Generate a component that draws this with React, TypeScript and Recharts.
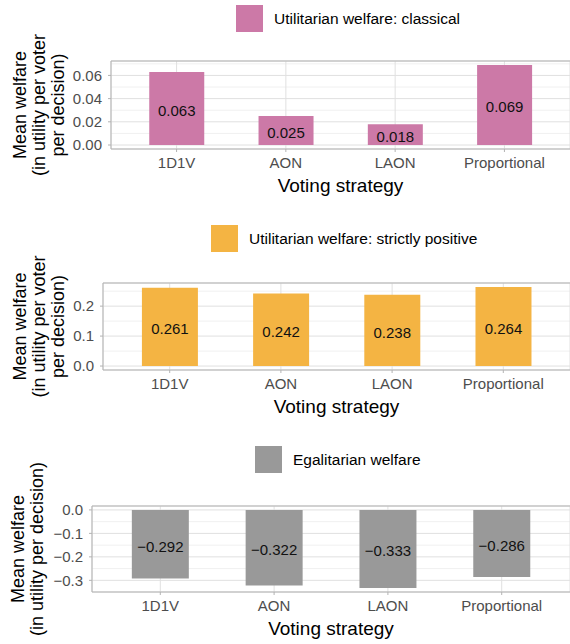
import { BarChart, Bar, XAxis, YAxis, CartesianGrid, ReferenceLine, LabelList, Label } from 'recharts'

const strategies = ['1D1V', 'AON', 'LAON', 'Proportional']

const classicalWelfare = [0.063, 0.025, 0.018, 0.069]
const positiveWelfare = [0.261, 0.242, 0.238, 0.264]
const egalitarianWelfare = [-0.292, -0.322, -0.333, -0.286]

const classicalTicks = [0, 0.02, 0.04, 0.06]
const classicalMinor = [0.01, 0.03, 0.05, 0.07]
const positiveTicks = [0, 0.1, 0.2]
const positiveMinor = [0.05, 0.15, 0.25]
const egalitarianTicks = [-0.3, -0.2, -0.1, 0]
const egalitarianMinor = [-0.25, -0.15, -0.05]

const seriesNames = ['Utilitarian welfare: classical', 'Utilitarian welfare: strictly positive', 'Egalitarian welfare']
const seriesColors = ['#CC79A7', '#F4B443', '#999999']

const longTitle = ['Mean welfare', '(in utility per voter', 'per decision)']
const shortTitle = ['Mean welfare', '(in utility per decision)']
const xTitle = 'Voting strategy'

const FONT = "'Liberation Sans', Arial, Helvetica, sans-serif"
const W = 570

// ggplot style number labels, with a real minus sign
const fmt = (v: number, d: number) => (v < 0 ? '\u2212' : '') + Math.abs(v).toFixed(d)

interface PanelProps {
    values: number[]
    ticks: number[]
    minor: number[]
    decimals: number
    name: string
    color: string
    title: string[]
    titleX: number[]
    top: number
    height: number
    plotTop: number
    plotBottom: number
    plotLeft: number
    legendLeft: number
    legendTop: number
}

function Panel(p: PanelProps) {
    const data = strategies.map((s, i) => ({ strategy: s, value: p.values[i] }))
    // 5% expansion like ggplot
    const lo = Math.min(0, ...p.values)
    const hi = Math.max(0, ...p.values)
    const ext = (hi - lo) * 0.05
    const domain = [lo - ext, hi + ext]
    const xPad = ((W - p.plotLeft) / 4.2) * 0.1

    return (
        <div style={{ position: 'absolute', left: 0, top: p.top, width: W, height: p.height }}>
            <BarChart
                width={W}
                height={p.height}
                data={data}
                margin={{ top: p.plotTop - p.top, right: 0, bottom: 0, left: 0 }}
                barCategoryGap="25%"
            >
                <CartesianGrid horizontalValues={p.minor} vertical={false} stroke="#f0f0f0" />
                <CartesianGrid stroke="#e0e0e0" />
                <XAxis
                    dataKey="strategy"
                    height={p.top + p.height - p.plotBottom}
                    padding={{ left: xPad, right: xPad }}
                    interval={0}
                    tickSize={3}
                    tickMargin={5}
                    tickLine={{ stroke: '#b3b3b3' }}
                    axisLine={{ stroke: '#b3b3b3' }}
                    tick={{ fill: '#4d4d4d', fontSize: 15 }}
                >
                    <Label
                        content={({ viewBox }: any) => (
                            <text
                                x={viewBox.x + viewBox.width / 2}
                                y={viewBox.y + 36}
                                textAnchor="middle"
                                dominantBaseline="central"
                                fontSize={19}
                                fill="#000"
                            >
                                {xTitle}
                            </text>
                        )}
                    />
                </XAxis>
                <YAxis
                    type="number"
                    domain={domain}
                    allowDataOverflow
                    ticks={p.ticks}
                    width={p.plotLeft}
                    tickSize={3}
                    tickMargin={6}
                    tickLine={{ stroke: '#b3b3b3' }}
                    axisLine={{ stroke: '#b3b3b3' }}
                    tick={{ fill: '#4d4d4d', fontSize: 15 }}
                    tickFormatter={(v: number) => fmt(v, p.decimals)}
                >
                    <Label
                        content={({ viewBox }: any) => {
                            const cy = viewBox.y + viewBox.height / 2
                            return (
                                <g>
                                    {p.title.map((line, i) => (
                                        <text
                                            key={i}
                                            x={p.titleX[i]}
                                            y={cy}
                                            transform={`rotate(-90 ${p.titleX[i]} ${cy})`}
                                            textAnchor="middle"
                                            dominantBaseline="central"
                                            fontSize={18}
                                            fill="#000"
                                        >
                                            {line}
                                        </text>
                                    ))}
                                </g>
                            )
                        }}
                    />
                </YAxis>
                <ReferenceLine y={domain[1]} stroke="#b3b3b3" />
                <Bar dataKey="value" fill={p.color} isAnimationActive={false}>
                    <LabelList
                        dataKey="value"
                        position="center"
                        formatter={(v: any) => fmt(Number(v), 3)}
                        fill="#111"
                        fontSize={15}
                        dy={2}
                    />
                </Bar>
            </BarChart>
            <div
                style={{
                    position: 'absolute',
                    left: p.legendLeft,
                    top: p.legendTop,
                    display: 'flex',
                    alignItems: 'center',
                    whiteSpace: 'nowrap',
                }}
            >
                <div style={{ width: 27, height: 27, background: p.color }} />
                <span style={{ marginLeft: 11, fontSize: 15.5, color: '#000' }}>{p.name}</span>
            </div>
        </div>
    )
}

export default function App() {
    return (
        <div style={{ position: 'absolute', left: 0, top: 0, width: W, height: 644, background: '#fff', fontFamily: FONT }}>
            <Panel
                values={classicalWelfare}
                ticks={classicalTicks}
                minor={classicalMinor}
                decimals={2}
                name={seriesNames[0]}
                color={seriesColors[0]}
                title={longTitle}
                titleX={[20, 39, 58]}
                top={0}
                height={215}
                plotTop={61}
                plotBottom={149}
                plotLeft={111}
                legendLeft={236}
                legendTop={5}
            />
            <Panel
                values={positiveWelfare}
                ticks={positiveTicks}
                minor={positiveMinor}
                decimals={1}
                name={seriesNames[1]}
                color={seriesColors[1]}
                title={longTitle}
                titleX={[20, 39, 58]}
                top={215}
                height={220}
                plotTop={283}
                plotBottom={370}
                plotLeft={103}
                legendLeft={211}
                legendTop={10}
            />
            <Panel
                values={egalitarianWelfare}
                ticks={egalitarianTicks}
                minor={egalitarianMinor}
                decimals={1}
                name={seriesNames[2]}
                color={seriesColors[2]}
                title={shortTitle}
                titleX={[18, 37]}
                top={435}
                height={209}
                plotTop={506}
                plotBottom={592}
                plotLeft={92}
                legendLeft={255}
                legendTop={11}
            />
        </div>
    )
}
